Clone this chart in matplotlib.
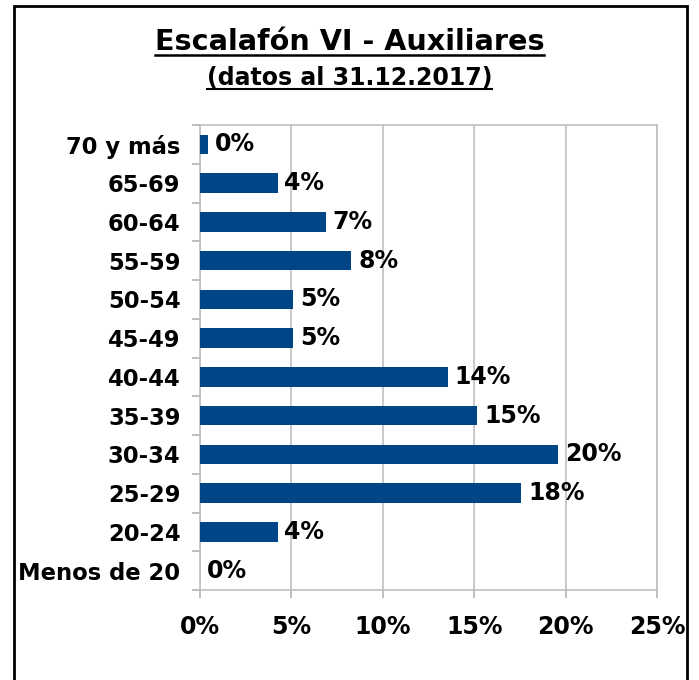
import matplotlib.pyplot as plt
from matplotlib.patches import Rectangle
from matplotlib.lines import Line2D

# age groups, top to bottom as in the chart
categories = ['70 y más', '65-69', '60-64', '55-59', '50-54', '45-49',
              '40-44', '35-39', '30-34', '25-29', '20-24', 'Menos de 20']
values = [0.42, 4.24, 6.88, 8.28, 5.08, 5.08,
          13.54, 15.16, 19.6, 17.58, 4.24, 0.0]
xticks = [0, 5, 10, 15, 20, 25]

plt.rcParams['font.family'] = 'DejaVu Sans'
plt.rcParams['font.weight'] = 'bold'

fig = plt.figure(figsize=(6.99, 6.80), dpi=100)
ax = fig.add_axes([200 / 699, 1 - 590 / 680, 457 / 699, 465 / 680])

y = list(range(len(categories)))[::-1]
bars = ax.barh(y, values, height=0.5, color='#004586', zorder=3)

for yy, v in zip(y, values):
    ax.annotate('%d%%' % round(v), (v, yy), xytext=(5, 0),
                textcoords='offset points', va='center', ha='left',
                fontsize=17, fontweight='bold')

ax.set_xlim(0, 25)
ax.set_ylim(-0.5, len(categories) - 0.5)
ax.set_xticks(xticks)
ax.set_xticklabels(['%d%%' % t for t in xticks], fontsize=17, fontweight='bold')
ax.set_yticks(y)
ax.set_yticklabels(categories, fontsize=16.3, fontweight='bold')
ax.set_yticks([i + 0.5 for i in range(-1, len(categories))], minor=True)
ax.tick_params(axis='y', which='major', length=0, pad=14)
ax.tick_params(axis='y', which='minor', length=6, color='#b3b3b3', width=1.2)
ax.tick_params(axis='x', length=6, color='#b3b3b3', width=1.2, pad=12)
ax.grid(axis='x', color='#c0c0c0', linewidth=1.2, zorder=0)
for s in ax.spines.values():
    s.set_color('#c0c0c0')
    s.set_linewidth(1.2)

# titles with underline
t1 = fig.text(0.5, 1 - 42 / 680, 'Escalafón VI - Auxiliares', ha='center',
              va='center', fontsize=20.6, fontweight='bold')
t2 = fig.text(0.5, 1 - 78 / 680, '(datos al 31.12.2017)', ha='center',
              va='center', fontsize=17, fontweight='bold')
fig.canvas.draw()
r = fig.canvas.get_renderer()
for t, lw in [(t1, 1.8), (t2, 1.5)]:
    bb = t.get_window_extent(r).transformed(fig.transFigure.inverted())
    yl = bb.y0 + 0.002
    fig.add_artist(Line2D([bb.x0, bb.x1], [yl, yl], color='black', lw=lw,
                          transform=fig.transFigure))

# outer frame
fig.add_artist(Rectangle((14 / 699, -0.01), 673 / 699, 1 - 6 / 680 + 0.01,
                         transform=fig.transFigure, fill=False,
                         edgecolor='black', linewidth=2))

fig.savefig('out.png', dpi=100)
